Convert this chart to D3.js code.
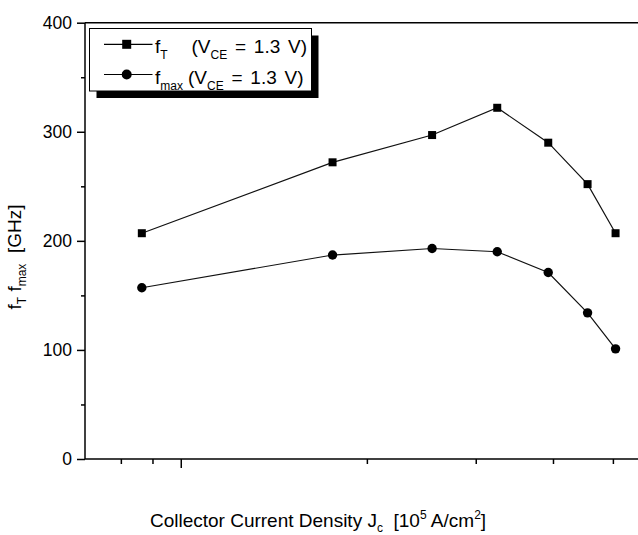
<!DOCTYPE html>
<html>
<head>
<meta charset="utf-8">
<script src="https://cdn.jsdelivr.net/npm/d3@7"></script>
<style>
  html, body { margin: 0; padding: 0; background: #fff; }
  svg { display: block; font-family: "Liberation Sans", Arial, sans-serif; }
  text { white-space: pre; }
</style>
</head>
<body>
<div id="chart"></div>
<script>
// Collector current density [1e5 A/cm2]
const currentDensity = [0.865, 1.76, 2.55, 3.25, 3.93, 4.55, 5.05];
const fT = [207, 272, 297, 322, 290, 252, 207];
const fMax = [157, 187, 193, 190, 171, 134, 101];
const yMajorTicks = [0, 100, 200, 300, 400];
const yMinorTicks = [50, 150, 250, 350];
const xMajorTicks = [1];
const xMinorTicks = [0.8, 0.9, 2, 3, 4, 5];

const W = 638, H = 535;
const svg = d3.select('#chart').append('svg')
  .attr('width', W).attr('height', H);

const x = d3.scaleLog().domain([0.7, 5.49]).range([85, 638]);
const y = d3.scaleLinear().domain([0, 400]).range([459, 22.7]);

// Y axis
const yAxis = svg.append('g').attr('transform', `translate(${x.range()[0]},0)`);
yAxis.call(d3.axisLeft(y).tickValues(yMajorTicks).tickSize(8).tickPadding(5).tickFormat(d3.format('d')))
  .call(g => g.select('.domain').remove());
yAxis.selectAll('.tick line').attr('stroke', '#000').attr('stroke-width', 1.5);
yAxis.selectAll('.tick text').attr('font-size', 17.5).attr('fill', '#000')
  .attr('font-family', '"Liberation Sans", Arial, sans-serif');
svg.append('g').attr('transform', `translate(${x.range()[0]},0)`)
  .call(d3.axisLeft(y).tickValues(yMinorTicks).tickSize(4).tickFormat(''))
  .call(g => g.select('.domain').remove())
  .selectAll('.tick line').attr('stroke', '#000').attr('stroke-width', 1.5);

// X axis (labels clipped away in the original)
svg.append('g').attr('transform', `translate(0,${y(0)})`)
  .call(d3.axisBottom(x).tickValues(xMajorTicks).tickSize(9).tickFormat(''))
  .call(g => g.select('.domain').remove())
  .selectAll('.tick line').attr('stroke', '#000').attr('stroke-width', 1.5);
svg.append('g').attr('transform', `translate(0,${y(0)})`)
  .call(d3.axisBottom(x).tickValues(xMinorTicks).tickSize(5).tickFormat(''))
  .call(g => g.select('.domain').remove())
  .selectAll('.tick line').attr('stroke', '#000').attr('stroke-width', 1.5);

// Frame lines: left, bottom, top
const [x0, x1] = x.range();
svg.append('line').attr('x1', x0).attr('x2', x0).attr('y1', y(400)).attr('y2', y(0))
  .attr('stroke', '#000').attr('stroke-width', 1.5);
svg.append('line').attr('x1', x0).attr('x2', x1).attr('y1', y(0)).attr('y2', y(0))
  .attr('stroke', '#000').attr('stroke-width', 1.5);
svg.append('line').attr('x1', x0).attr('x2', x1).attr('y1', y(400)).attr('y2', y(400))
  .attr('stroke', '#000').attr('stroke-width', 1.5);

// Series
const line = d3.line().x(d => x(d[0])).y(d => y(d[1]));
const ftData = currentDensity.map((c, i) => [c, fT[i]]);
const fmaxData = currentDensity.map((c, i) => [c, fMax[i]]);

svg.append('path').datum(ftData).attr('d', line)
  .attr('fill', 'none').attr('stroke', '#111').attr('stroke-width', 1.2);
svg.append('path').datum(fmaxData).attr('d', line)
  .attr('fill', 'none').attr('stroke', '#111').attr('stroke-width', 1.2);

const sq = 8;
svg.selectAll('rect.ft').data(ftData).join('rect')
  .attr('class', 'ft')
  .attr('x', d => x(d[0]) - sq / 2).attr('y', d => y(d[1]) - sq / 2)
  .attr('width', sq).attr('height', sq).attr('fill', '#000');
svg.selectAll('circle.fmax').data(fmaxData).join('circle')
  .attr('class', 'fmax')
  .attr('cx', d => x(d[0])).attr('cy', d => y(d[1]))
  .attr('r', 4.7).attr('fill', '#000');

// Legend with drop shadow
const lg = svg.append('g');
const box = { x: 89.5, y: 28.5, w: 222, h: 62.5 };
lg.append('rect').attr('x', box.x + 7).attr('y', box.y + 7)
  .attr('width', box.w).attr('height', box.h).attr('fill', '#000');
lg.append('rect').attr('x', box.x).attr('y', box.y)
  .attr('width', box.w).attr('height', box.h)
  .attr('fill', '#fff').attr('stroke', '#000').attr('stroke-width', 1);

svg.append('clipPath').attr('id', 'legclip')
  .append('rect').attr('x', box.x).attr('y', box.y).attr('width', box.w - 1.5).attr('height', box.h);
const lt = lg.append('g').attr('clip-path', 'url(#legclip)');

const rows = [
  { yc: 44.3, sub: 'T', vx: 191.5, marker: 'square' },
  { yc: 74.5, sub: 'max', vx: 188, marker: 'circle' }
];
rows.forEach(r => {
  lt.append('line').attr('x1', 104).attr('x2', 152.5).attr('y1', r.yc).attr('y2', r.yc)
    .attr('stroke', '#000').attr('stroke-width', 1.2);
  if (r.marker === 'square') {
    lt.append('rect').attr('x', 126.7 - 4.5).attr('y', r.yc - 4.5)
      .attr('width', 9).attr('height', 9).attr('fill', '#000');
  } else {
    lt.append('circle').attr('cx', 126.7).attr('cy', r.yc).attr('r', 5).attr('fill', '#000');
  }
  const t = lt.append('text').attr('x', 155).attr('y', r.yc + 9)
    .attr('font-size', 19).attr('fill', '#000');
  t.append('tspan').text('f');
  t.append('tspan').attr('font-size', 12).attr('dy', 6).text(r.sub);
  const t2 = lt.append('text').attr('x', r.vx).attr('y', r.yc + 9)
    .attr('font-size', 19).attr('fill', '#000').attr('word-spacing', 2.5);
  t2.append('tspan').text('(V');
  t2.append('tspan').attr('font-size', 12).attr('dy', 6).text('CE');
  t2.append('tspan').attr('dy', -6).text(' = 1.3 V)');
});

// Y axis title
const yt = svg.append('text')
  .attr('transform', 'translate(21,257) rotate(-90)')
  .attr('text-anchor', 'middle').attr('font-size', 19).attr('fill', '#000');
yt.append('tspan').text('f');
yt.append('tspan').attr('font-size', 12).attr('dy', 5).text('T');
yt.append('tspan').attr('dy', -5).text(' f');
yt.append('tspan').attr('font-size', 12).attr('dy', 5).text('max');
yt.append('tspan').attr('dy', -5).text('  [GHz]');

// X axis title
const xt = svg.append('text').attr('x', 318).attr('y', 527)
  .attr('text-anchor', 'middle').attr('font-size', 19).attr('fill', '#000');
xt.append('tspan').text('Collector Current Density J');
xt.append('tspan').attr('font-size', 12).attr('dy', 5).text('c');
xt.append('tspan').attr('dy', -5).text('  [10');
xt.append('tspan').attr('font-size', 12).attr('dy', -8).text('5');
xt.append('tspan').attr('dy', 8).text(' A/cm');
xt.append('tspan').attr('font-size', 12).attr('dy', -8).text('2');
xt.append('tspan').attr('dy', 8).text(']');
</script>
</body>
</html>
